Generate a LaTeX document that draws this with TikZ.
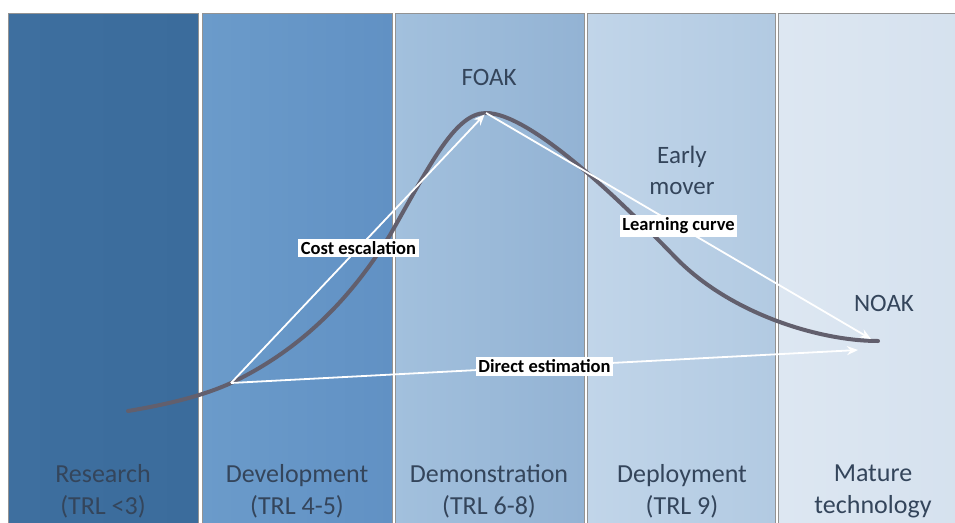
\documentclass[tikz,border=0pt]{standalone}
\usepackage{fontspec}
\setmainfont{Carlito}
\usetikzlibrary{arrows.meta}

\definecolor{researchL}{HTML}{3E6F9F}
\definecolor{researchR}{HTML}{3B6C9C}
\definecolor{developL}{HTML}{6B9BCA}
\definecolor{developR}{HTML}{6191C4}
\definecolor{demoL}{HTML}{A2C0DD}
\definecolor{demoR}{HTML}{93B3D4}
\definecolor{deployL}{HTML}{C1D5E9}
\definecolor{deployR}{HTML}{B2CAE2}
\definecolor{matureL}{HTML}{DDE7F2}
\definecolor{matureR}{HTML}{D5E1EE}
\definecolor{labeltext}{HTML}{34455B}
\definecolor{curvegray}{HTML}{625F6D}

\begin{document}
\begin{tikzpicture}[x=1pt, y=-1pt,
  panel/.style={draw=gray!85, line width=0.8pt},
  stage/.style={text=labeltext, font=\fontsize{26}{32}\selectfont, align=center},
  marker/.style={text=labeltext, font=\fontsize{25}{31}\selectfont, align=center},
  estim/.style={draw=white, line width=1.8pt, -{Stealth[length=11pt,width=9pt]}},
  tag/.style={fill=white, text=black, font=\bfseries\fontsize{18.5}{21}\selectfont, inner sep=2.5pt}]
\useasboundingbox (0,0) rectangle (955,522);
\clip (0,0) rectangle (955,522);

% stage panels
\foreach \x/\w/\c in {8/190/research, 202/190/develop, 395/189/demo, 587/188/deploy, 778/190/mature}{
	\shadedraw[panel, left color=\c L, right color=\c R] (\x,13) rectangle ++(\w,520);
}

\node[stage] (research) at (103,491) {Research\\(TRL <3)};
\node[stage] (development) at (297,491) {Development\\(TRL 4-5)};
\node[stage] (demonstration) at (489,491) {Demonstration\\(TRL 6-8)};
\node[stage] (deployment) at (682,491) {Deployment\\(TRL 9)};
\node[stage] (mature) at (873,491) {Mature\\technology};

\node[marker] (foaklabel) at (489,77) {FOAK};
\node[marker] (earlymover) at (682,170) {Early\\mover};
\node[marker] (noaklabel) at (884,303) {NOAK};

\coordinate (base) at (231,383);
\coordinate (foak) at (486,113);
\coordinate (learnend) at (871,339);
\coordinate (directend) at (858,350);

% cost curve
\draw[curvegray, line width=4pt, line cap=round]
	(128,411) .. controls (170,404) and (205,395) .. (base)
	.. controls (300,350) and (350,300) .. (390,235)
	.. controls (430,165) and (455,113) .. (foak)
	.. controls (530,113) and (620,200) .. (675,257)
	.. controls (730,314) and (820,341) .. (878,341);

% estimation routes
\draw[estim, shorten >=2pt] (base) -- (foak) node[tag, midway] (costesc) {Cost escalation};
\draw[estim] (foak) -- (learnend) node[tag, midway] (learning) {Learning curve};
\draw[estim] (base) -- (directend) node[tag, midway] (direct) {Direct estimation};
\end{tikzpicture}
\end{document}
